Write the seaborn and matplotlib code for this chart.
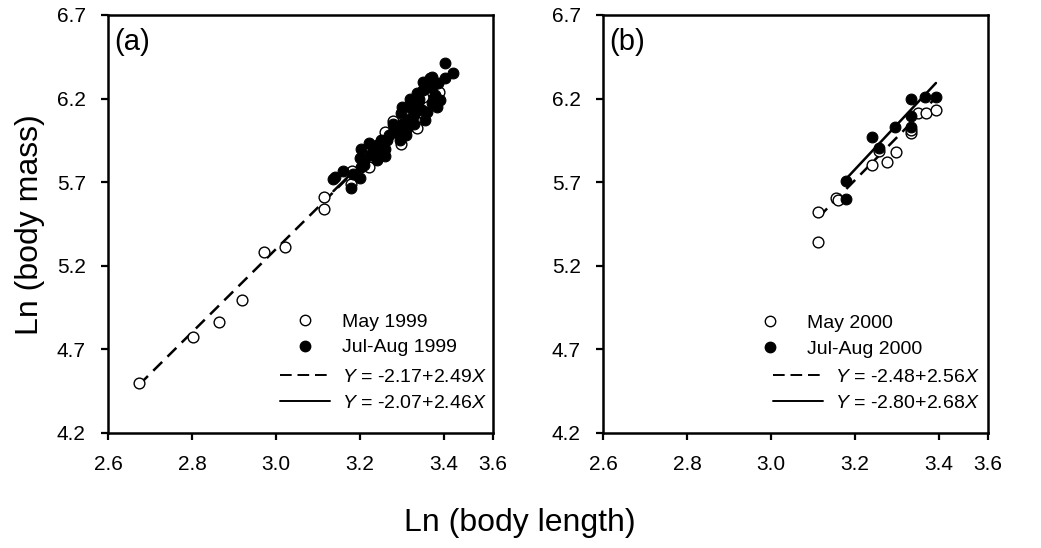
import numpy as np
import pandas as pd
import seaborn as sns
import matplotlib
matplotlib.use("Agg")
import matplotlib.pyplot as plt
from matplotlib.lines import Line2D

# ---------------- data ----------------
# Panel (a) 1999
may99_len = [2.674, 2.803, 2.864, 2.920, 2.971, 3.021, 3.115, 3.115, 3.180, 3.179,
             3.221, 3.260, 3.279, 3.298, 3.315, 3.335, 3.351, 3.351, 3.351, 3.389]
may99_mass = [4.497, 4.776, 4.866, 4.994, 5.281, 5.311, 5.610, 5.538, 5.767, 5.687,
              5.789, 5.998, 6.068, 5.927, 6.158, 6.022, 6.251, 6.211, 6.112, 6.241]
jul99_len = [3.137, 3.140, 3.160, 3.179, 3.200, 3.202, 3.200, 3.202, 3.222, 3.224,
             3.241, 3.241, 3.260, 3.264, 3.279, 3.295, 3.299, 3.311, 3.315, 3.323,
             3.335, 3.339, 3.347, 3.355, 3.367, 3.371, 3.371, 3.383, 3.386, 3.390,
             3.402, 3.421, 3.402, 3.371, 3.183, 3.210, 3.230, 3.250, 3.270, 3.280,
             3.290, 3.300, 3.310, 3.320, 3.330, 3.330, 3.340, 3.350, 3.360, 3.360,
             3.380, 3.350, 3.320, 3.300, 3.260, 3.240, 3.210]
jul99_mass = [5.717, 5.733, 5.769, 5.664, 5.723, 5.789, 5.843, 5.899, 5.933, 5.863,
              5.922, 5.833, 5.857, 5.952, 6.002, 5.952, 6.112, 6.022, 6.072, 6.092,
              6.232, 6.172, 6.132, 6.072, 6.321, 6.262, 6.172, 6.152, 6.291, 6.192,
              6.321, 6.355, 6.415, 6.331, 5.750, 5.800, 5.900, 5.950, 5.980, 6.050,
              6.000, 6.050, 5.980, 6.150, 6.100, 6.050, 6.200, 6.250, 6.120, 6.300,
              6.220, 6.300, 6.200, 6.150, 5.900, 5.870, 5.830]

# Panel (b) 2000
may00_len = [3.113, 3.113, 3.156, 3.160, 3.240, 3.277, 3.297, 3.258, 3.333, 3.333,
             3.351, 3.369, 3.393]
may00_mass = [5.344, 5.524, 5.604, 5.594, 5.803, 5.823, 5.882, 5.887, 5.992, 6.012,
              6.112, 6.112, 6.130]
jul00_len = [3.178, 3.178, 3.240, 3.257, 3.295, 3.333, 3.333, 3.333, 3.367, 3.393]
jul00_mass = [5.600, 5.707, 5.968, 5.903, 6.028, 6.196, 6.096, 6.032, 6.211, 6.211]

# regression coefficients (intercept, slope)
fit_may99 = (-2.17, 2.49)
fit_jul99 = (-2.07, 2.46)
fit_may00 = (-2.48, 2.56)
fit_jul00 = (-2.80, 2.68)

x_ticks = [2.6, 2.8, 3.0, 3.2, 3.4, 3.517]
x_ticklabels = ["2.6", "2.8", "3.0", "3.2", "3.4", "3.6"]
y_ticks = [4.2, 4.7, 5.2, 5.7, 6.2, 6.7]
y_ticklabels = ["4.2", "4.7", "5.2", "5.7", "6.2", "6.7"]

panels = [
    dict(tag="(a)", year="1999", may=(may99_len, may99_mass), jul=(jul99_len, jul99_mass),
         fm=fit_may99, fj=fit_jul99),
    dict(tag="(b)", year="2000", may=(may00_len, may00_mass), jul=(jul00_len, jul00_mass),
         fm=fit_may00, fj=fit_jul00),
]

# ---------------- figure ----------------
sns.set_theme(style="white")
plt.rcParams['font.family'] = ['Liberation Sans', 'DejaVu Sans']
plt.rcParams['mathtext.fontset'] = 'custom'
plt.rcParams['mathtext.it'] = 'Liberation Sans:italic'
plt.rcParams['mathtext.rm'] = 'Liberation Sans'
plt.rcParams['text.color'] = 'black'
plt.rcParams['axes.labelcolor'] = 'black'
plt.rcParams['xtick.color'] = 'black'
plt.rcParams['ytick.color'] = 'black'

W, H = 1041, 548
fig = plt.figure(figsize=(W / 100, H / 100), dpi=100)
ax_rects = [(108, 15, 493, 433), (603, 15, 988, 433)]
# legend anchors in pixels: (marker legend x, y-center), (line legend x, y-center)
leg_pos = [((280, 335), (280, 390)), ((745, 336), (773, 390))]

def fx(px):
    return px / W

def fy(py):
    return 1 - py / H

for p, rect, lp in zip(panels, ax_rects, leg_pos):
    l, t, r, b = rect
    ax = fig.add_axes([fx(l), fy(b), fx(r) - fx(l), fy(t) - fy(b)])
    dm = pd.DataFrame({"x": p["may"][0], "y": p["may"][1]})
    dj = pd.DataFrame({"x": p["jul"][0], "y": p["jul"][1]})

    # regression lines over the data range
    xm = np.array([min(p["may"][0]), max(p["may"][0])])
    xj = np.array([min(p["jul"][0]), max(p["jul"][0])])
    lm = pd.DataFrame({"x": xm, "y": p["fm"][0] + p["fm"][1] * xm})
    lj = pd.DataFrame({"x": xj, "y": p["fj"][0] + p["fj"][1] * xj})
    sns.lineplot(data=lm, x="x", y="y", ax=ax, color="black", lw=1.8,
                 linestyle=(0, (5, 3)), zorder=2)
    sns.lineplot(data=lj, x="x", y="y", ax=ax, color="black", lw=1.8, zorder=2)

    sns.scatterplot(data=dm, x="x", y="y", ax=ax, s=60, facecolor="white",
                    edgecolor="black", linewidth=1.0, zorder=3)
    sns.scatterplot(data=dj, x="x", y="y", ax=ax, s=60, color="black",
                    edgecolor="black", linewidth=0.8, zorder=4)

    ax.set_xlim(2.6, 3.517)
    ax.set_ylim(4.2, 6.7)
    ax.set_xticks(x_ticks)
    ax.set_xticklabels(x_ticklabels)
    ax.set_yticks(y_ticks)
    ax.set_yticklabels(y_ticklabels)
    ax.set_xlabel("")
    ax.set_ylabel("")
    ax.tick_params(axis="both", which="both", direction="out", length=5, width=1.6,
                   labelsize=15, colors="black", labelcolor="black",
                   bottom=True, left=True, pad=11)
    for s in ax.spines.values():
        s.set_visible(True)
        s.set_color("black")
        s.set_linewidth(1.8)

    ax.text(0.015, 0.935, p["tag"], transform=ax.transAxes, fontsize=21,
            ha="left", va="center", color="black")

    hs = [Line2D([], [], marker="o", ls="none", markersize=7.5, markerfacecolor="white",
                 markeredgecolor="black", markeredgewidth=1.0),
          Line2D([], [], marker="o", ls="none", markersize=7.5, markerfacecolor="black",
                 markeredgecolor="black")]
    leg1 = ax.legend(hs, [f"May {p['year']}", f"Jul-Aug {p['year']}"],
                     loc="center left", bbox_to_anchor=(fx(lp[0][0]), fy(lp[0][1])),
                     bbox_transform=fig.transFigure, frameon=False, fontsize=14,
                     borderpad=0, handlelength=2.56, handletextpad=0.65,
                     labelspacing=0.4, borderaxespad=0, labelcolor="black")
    ax.add_artist(leg1)
    hl = [Line2D([], [], color="black", lw=1.4, linestyle=(0, (6, 3))),
          Line2D([], [], color="black", lw=1.4)]
    a1, b1 = p["fm"]
    a2, b2 = p["fj"]
    labs = [rf"$Y$ = {a1:.2f}+{b1:.2f}$X$", rf"$Y$ = {a2:.2f}+{b2:.2f}$X$"]
    ax.legend(hl, labs, loc="center left", bbox_to_anchor=(fx(lp[1][0]), fy(lp[1][1])),
              bbox_transform=fig.transFigure, frameon=False, fontsize=14,
              borderpad=0, handlelength=2.56, handletextpad=0.65,
              labelspacing=0.4, borderaxespad=0, labelcolor="black")

fig.text(fx(30), fy(225), "Ln (body mass)", rotation=90, ha="center", va="center",
         fontsize=23, color="black")
fig.text(fx(520), fy(523), "Ln (body length)", ha="center", va="center", fontsize=23,
         color="black")

fig.savefig("out.png", dpi=100, facecolor="white")
